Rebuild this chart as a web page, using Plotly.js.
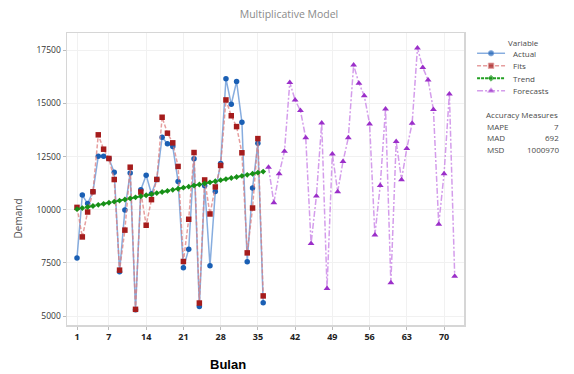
<!DOCTYPE html>
<html><head><meta charset="utf-8">
<script src="https://cdn.plot.ly/plotly-3.0.1.min.js"></script>
<style>html,body{margin:0;padding:0;background:#fff}#chart{width:574px;height:374px}</style>
</head><body><div id="chart"></div>
<script>
// ---- data ----
const actualPeriods = [1,2,3,4,5,6,7,8,9,10,11,12,13,14,15,16,17,18,19,20,21,22,23,24,25,26,27,28,29,30,31,32,33,34,35,36];
const forecastPeriods = [37,38,39,40,41,42,43,44,45,46,47,48,49,50,51,52,53,54,55,56,57,58,59,60,61,62,63,64,65,66,67,68,69,70,71,72];
const actual = [7734,10690,10290,10849,12510,12510,12410,11760,7078,9990,11728,5300,10943,11620,10755,11425,13410,13100,12973,11332,7265,8142,12397,5450,11130,7359,10860,12170,16160,14960,16030,14120,7547,11018,13130,5624];
const fits = [10110,8720,9892,10845,13523,12847,12410,11420,7157,9040,12000,5314,10830,9270,10474,11425,14350,13600,13146,12036,7565,9550,12690,5610,11400,9800,11070,12080,15164,14420,13910,12678,7970,10080,13345,5945];
const trend = [10026,10076,10127,10177,10228,10278,10329,10379,10430,10480,10531,10581,10632,10682,10733,10783,10834,10884,10935,10985,11036,11086,11137,11187,11238,11288,11339,11389,11440,11490,11541,11591,11642,11692,11743,11793];
const forecasts = [12003,10333,11693,12753,15989,15160,14662,13380,8410,10643,14083,6299,12620,10849,12270,13380,16806,15944,15366,14036,8813,11143,14740,6562,13208,11411,12880,14068,17603,16693,16099,14709,9315,11693,15444,6876];
const xTicks = [1,7,14,21,28,35,42,49,56,63,70];
const yTicks = [5000,7500,10000,12500,15000,17500];
const seriesNames = ['Actual','Fits','Trend','Forecasts'];
const measureNames = ['MAPE','MAD','MSD'];
const measureValues = ['7','692','1000970'];

// ---- styles ----
const styles = [
  {line:{color:'rgba(95,145,212,0.75)',width:1.5,dash:'solid'}, marker:{symbol:'circle',size:5.5,color:'#1a5fb4'}},
  {line:{color:'rgba(222,125,125,0.75)',width:1.5,dash:'4px,2px'}, marker:{symbol:'square',size:5.5,color:'#a51c1c'}},
  {line:{color:'#23a023',width:2,dash:'3px,1px'}, marker:{symbol:'diamond',size:4.5,color:'#179017'}},
  {line:{color:'rgba(205,140,232,0.85)',width:1.5,dash:'6px,2px,2px,2px'}, marker:{symbol:'triangle-up',size:6,color:'#9b2fc9'}}
];

const L = 66.7, R = 8, T = 32.7, B = 49, WW = 574, HH = 374;
const PW = WW - L - R, PH = HH - T - B;
const fx = px => (px - L) / PW;
const fy = py => (HH - B - py) / PH;

const xs = [actualPeriods, actualPeriods, actualPeriods, forecastPeriods];
const ys = [actual, fits, trend, forecasts];
const traces = seriesNames.map((n, i) => ({
  type:'scatter', mode:'lines+markers', name:n, x:xs[i], y:ys[i],
  line:styles[i].line, marker:styles[i].marker, showlegend:false, cliponaxis:false,
  xaxis:'x', yaxis:'y'
}));

// legend samples drawn on a small helper axis (pixel-like coordinates)
const legendRows = [53, 65.5, 78, 90.5];
seriesNames.forEach((n, i) => {
  traces.push({
    type:'scatter', mode:'lines+markers', x:[477,491,505], y:[legendRows[i],legendRows[i],legendRows[i]],
    line:styles[i].line, marker:Object.assign({}, styles[i].marker, {size:[0, styles[i].marker.size, 0]}),
    showlegend:false, hoverinfo:'skip', xaxis:'x2', yaxis:'y2', cliponaxis:false
  });
});

const txt = '#4a4a4a';
const annotations = [
  {text:'Demand', x:fx(18), y:fy(218), textangle:-90, font:{size:10, color:'#555'}},
  {text:'<b>Bulan</b>', x:fx(228), y:fy(365), font:{size:13, color:'#000', family:'Liberation Sans, Arial, sans-serif'}},
  {text:'Variable', x:fx(523), y:fy(42.5), font:{size:8, color:txt}},
  {text:'Accuracy Measures', x:fx(483.5), y:fy(114), xanchor:'left', font:{size:8, color:txt}}
];
seriesNames.forEach((n, i) => annotations.push({text:n, x:fx(511), y:fy(legendRows[i]), xanchor:'left', font:{size:8, color:txt}}));
measureNames.forEach((n, i) => {
  annotations.push({text:n, x:fx(485), y:fy(126 + i*11.7), xanchor:'left', font:{size:8, color:txt}});
  annotations.push({text:measureValues[i], x:fx(561), y:fy(126 + i*11.7), xanchor:'right', font:{size:8, color:txt}});
});
annotations.forEach(a => { a.xref='paper'; a.yref='paper'; a.showarrow=false; a.yanchor = a.yanchor || 'middle'; a.xanchor = a.xanchor || 'center'; });

const layout = {
  width:WW, height:HH, paper_bgcolor:'#fff', plot_bgcolor:'#fff',
  margin:{l:L, r:R, t:T, b:B, pad:0},
  font:{family:'Open Sans, Noto Sans, sans-serif', size:8, color:'#333'},
  title:{text:'Multiplicative Model', x:289/WW, xref:'container', y:1-14.5/HH, yref:'container', yanchor:'middle', xanchor:'center', font:{size:10.5, color:'#8a8a8a'}},
  showlegend:false,
  xaxis:{domain:[0, (464-L)/PW], range:[-0.88, 73.76], tickmode:'array', tickvals:xTicks, ticks:'outside', ticklen:3, tickcolor:'#bbb',
         showgrid:true, gridcolor:'#f1f1f1', zeroline:false, showline:true, mirror:true, linecolor:'#d6d6d6', linewidth:1.5,
         tickfont:{size:9, color:'#222', weight:'bold'}},
  yaxis:{domain:[0,1], range:[4577, 18313], tickmode:'array', tickvals:yTicks, tickformat:'d', ticks:'outside', ticklen:3, tickcolor:'#bbb',
         showgrid:true, gridcolor:'#f1f1f1', zeroline:false, showline:true, mirror:true, linecolor:'#d6d6d6', linewidth:1.5,
         tickfont:{size:8.5, color:'#333'}},
  xaxis2:{domain:[fx(471), 1], range:[471, 566], visible:false, anchor:'y2', fixedrange:true},
  yaxis2:{domain:[0,1], range:[HH-B, T], visible:false, anchor:'x2', fixedrange:true},
  annotations:annotations
};
Plotly.newPlot('chart', traces, layout, {staticPlot:true, displayModeBar:false});
</script></body></html>
